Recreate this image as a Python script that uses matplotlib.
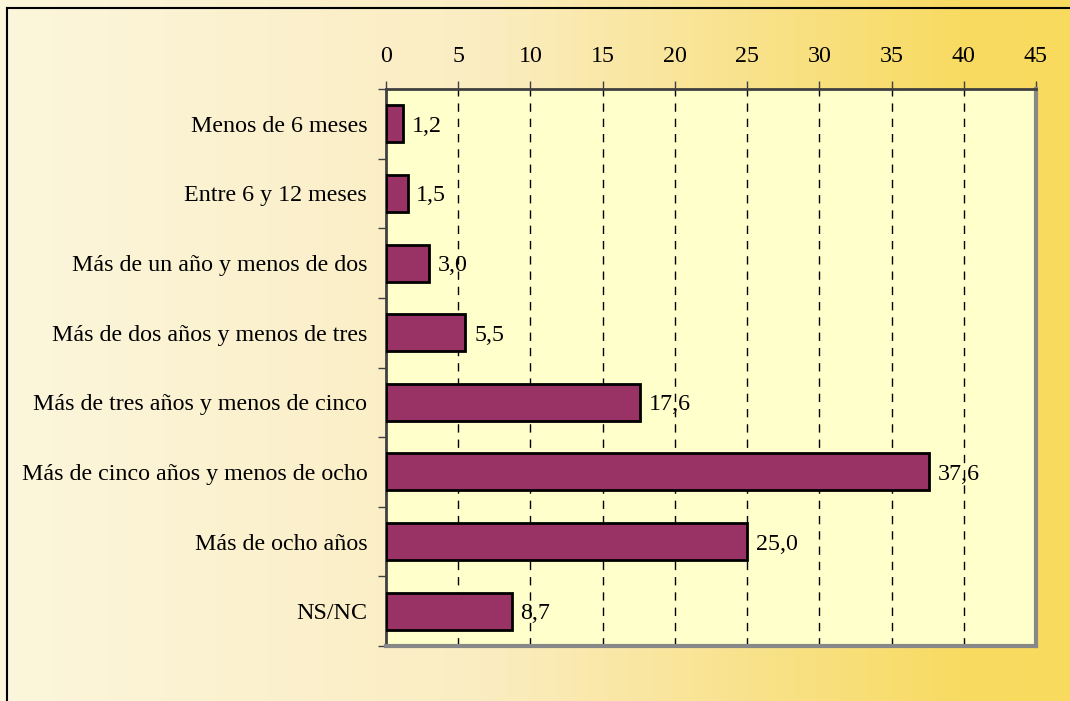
import numpy as np
import matplotlib
matplotlib.use("Agg")
import matplotlib.pyplot as plt
from matplotlib.colors import LinearSegmentedColormap
from matplotlib.ticker import MultipleLocator, FixedLocator

categories = [
    "Menos de 6 meses",
    "Entre 6 y 12 meses",
    "Más de un año y menos de dos",
    "Más de dos años y menos de tres",
    "Más de tres años y menos de cinco",
    "Más de cinco años y menos de ocho",
    "Más de ocho años",
    "NS/NC",
]
values = [1.2, 1.5, 3.0, 5.5, 17.6, 37.6, 25.0, 8.7]
value_labels = ["1,2", "1,5", "3,0", "5,5", "17,6", "37,6", "25,0", "8,7"]

plt.rcParams['font.family'] = ['Liberation Serif', 'DejaVu Serif']

W, H = 1070, 701
fig = plt.figure(figsize=(W / 100, H / 100), dpi=100)

# background gradient over the whole figure
bg = fig.add_axes([0, 0, 1, 1], zorder=-10)
grad_cmap = LinearSegmentedColormap.from_list(
    "bg", [(0, "#FCF6DC"), (0.45, "#FBEDC2"), (0.7, "#F9E28C"),
           (0.9, "#F8DB62"), (1, "#F8DA5E")])
bg.imshow(np.linspace(0, 1, 256).reshape(1, -1), cmap=grad_cmap, aspect='auto',
          extent=[0, 1, 0, 1])
bg.set_xlim(0, 1)
bg.set_ylim(0, 1)
bg.axis('off')
# outer frame (left and top only visible)
bg.plot([7 / W, 7 / W], [0, 1 - 8 / H], color='black', lw=1.5)
bg.plot([7 / W, 1], [1 - 8 / H, 1 - 8 / H], color='black', lw=1.5)

ax = fig.add_axes([386 / W, 1 - 646 / H, (1036 - 386) / W, (646 - 89) / H])
ax.set_facecolor('#FFFFCC')

y = np.arange(len(categories))
ax.barh(y, values, height=0.53, color='#993366', edgecolor='black', linewidth=2, zorder=3)
for yi, v, lab in zip(y, values, value_labels):
    ax.text(v + 0.6, yi, lab, va='center_baseline', ha='left', fontsize=17.3, zorder=4)

ax.set_xlim(0, 45)
ax.set_ylim(len(categories) - 0.5, -0.5)
ax.xaxis.set_major_locator(MultipleLocator(5))
ax.xaxis.tick_top()
ax.tick_params(axis='x', which='major', direction='out', length=6, width=1,
               labelsize=17.3, pad=10, color='#404040')
for gx in range(5, 45, 5):
    ax.axvline(gx, color='black', lw=1, dashes=(6, 5), zorder=1)

ax.set_yticks(y)
ax.set_yticklabels(categories)
ax.yaxis.set_minor_locator(FixedLocator(np.arange(-0.5, len(categories), 1)))
ax.tick_params(axis='y', which='major', length=0, labelsize=17.3, pad=13.5)
ax.tick_params(axis='y', which='minor', length=6, width=1, color='#404040')

ax.spines['top'].set_color('#404040')
ax.spines['left'].set_color('#404040')
ax.spines['top'].set_linewidth(2)
ax.spines['left'].set_linewidth(2)
ax.spines['right'].set_color('#888888')
ax.spines['bottom'].set_color('#888888')
ax.spines['right'].set_linewidth(3)
ax.spines['bottom'].set_linewidth(3)

fig.savefig("out.png", dpi=100)
